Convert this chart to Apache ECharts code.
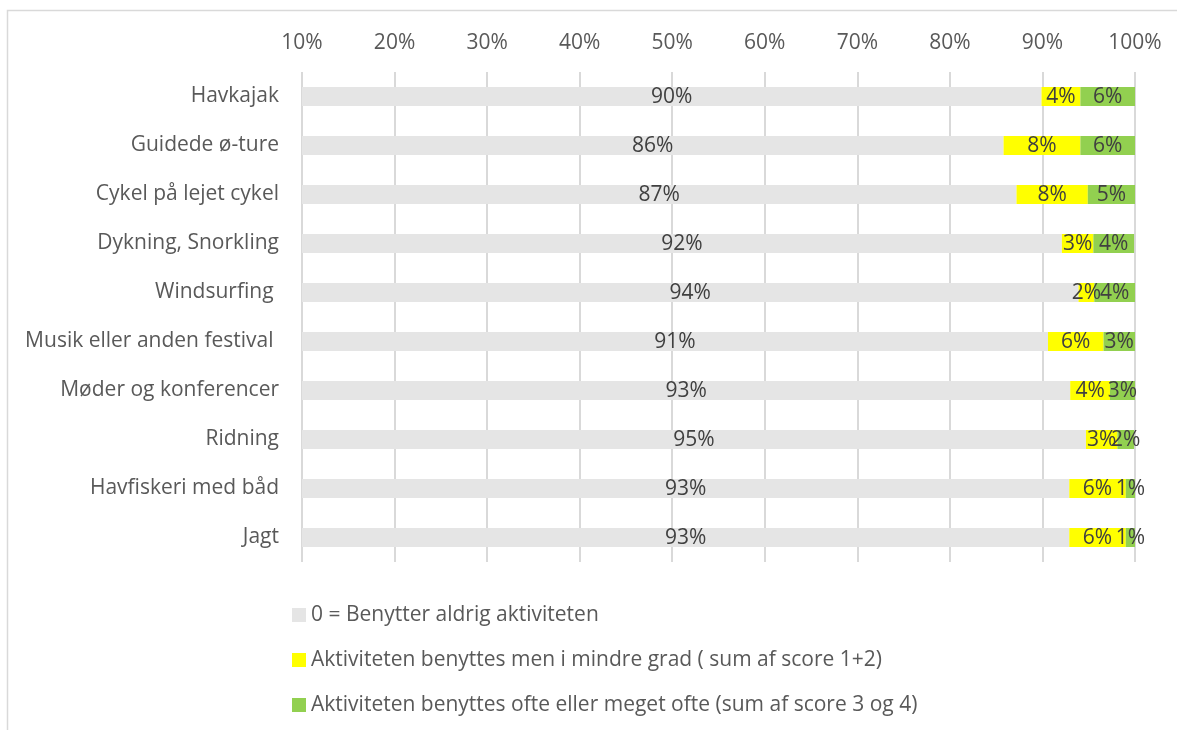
<!DOCTYPE html>
<html>
<head>
<meta charset="utf-8">
<title>Aktiviteter</title>
<script src="https://cdn.jsdelivr.net/npm/echarts@6/dist/echarts.min.js"></script>
<style>
  html, body { margin: 0; padding: 0; background: #fff; }
  #chart { width: 1177px; height: 730px; }
</style>
</head>
<body>
<div id="chart"></div>
<script>
const categories = [
  'Havkajak',
  'Guidede ø-ture',
  'Cykel på lejet cykel',
  'Dykning, Snorkling',
  'Windsurfing ',
  'Musik eller anden festival ',
  'Møder og konferencer',
  'Ridning',
  'Havfiskeri med båd',
  'Jagt'
]

const seriesNames = [
  '0 = Benytter aldrig aktiviteten',
  'Aktiviteten benyttes men i mindre grad ( sum af score 1+2)',
  'Aktiviteten benyttes ofte eller meget ofte (sum af score 3 og 4)'
]

// percent of respondents
const neverUsed = [89.9, 85.8, 87.2, 92.1, 93.9, 90.6, 93.0, 94.7, 92.9, 92.9]
const usedLittle = [4.2, 8.3, 7.7, 3.4, 1.7, 6.0, 4.3, 3.4, 6.1, 6.1]
const usedOften = [5.9, 5.9, 5.1, 4.4, 4.4, 3.4, 2.7, 1.8, 1.0, 1.0]

const axisTicks = [10, 20, 30, 40, 50, 60, 70, 80, 90, 100]

const colors = ['#e5e5e5', '#ffff00', '#92d050']
const font = '"Open Sans", "DejaVu Sans", sans-serif'

const chart = echarts.init(document.getElementById('chart'))

const makeSeries = (name, data, color) => ({
  name,
  type: 'bar',
  stack: 'total',
  data,
  barWidth: 19,
  itemStyle: { color },
  label: {
    show: true,
    position: 'inside',
    color: '#404040',
    fontFamily: font,
    fontSize: 21,
    offset: [0, 1],
    formatter: (p) => Math.round(p.value) + '%',
  },
})

chart.setOption({
  animation: false,
  textStyle: { fontFamily: font },
  graphic: [
    {
      type: 'rect',
      shape: { x: 7.5, y: 10.5, width: 1400, height: 1000 },
      style: { fill: 'none', stroke: '#d9d9d9', lineWidth: 1.5 },
      silent: true,
    },
  ],
  grid: { left: 302, right: 42, top: 72, bottom: 168 },
  xAxis: {
    type: 'value',
    position: 'top',
    min: axisTicks[0],
    max: axisTicks[axisTicks.length - 1],
    interval: axisTicks[1] - axisTicks[0],
    axisLine: { show: false },
    axisTick: { show: false },
    splitLine: { lineStyle: { color: '#d9d9d9', width: 2 } },
    axisLabel: {
      formatter: '{value}%',
      color: '#595959',
      fontSize: 21,
      margin: 18,
      fontFamily: font,
    },
  },
  yAxis: {
    type: 'category',
    inverse: true,
    data: categories,
    axisLine: { show: false },
    axisTick: { show: false },
    axisLabel: {
      color: '#595959',
      fontSize: 21,
      margin: 23,
      padding: [2, 0, 0, 0],
      fontFamily: font,
    },
  },
  legend: {
    orient: 'vertical',
    left: 287,
    top: 599,
    itemWidth: 14,
    itemHeight: 14,
    itemGap: 23,
    icon: 'rect',
    textStyle: {
      color: '#595959',
      fontSize: 21,
      lineHeight: 22,
      fontFamily: font,
    },
    data: seriesNames,
  },
  series: [
    makeSeries(seriesNames[0], neverUsed, colors[0]),
    makeSeries(seriesNames[1], usedLittle, colors[1]),
    makeSeries(seriesNames[2], usedOften, colors[2]),
  ],
})

window.addEventListener('resize', () => chart.resize())
</script>
</body>
</html>
